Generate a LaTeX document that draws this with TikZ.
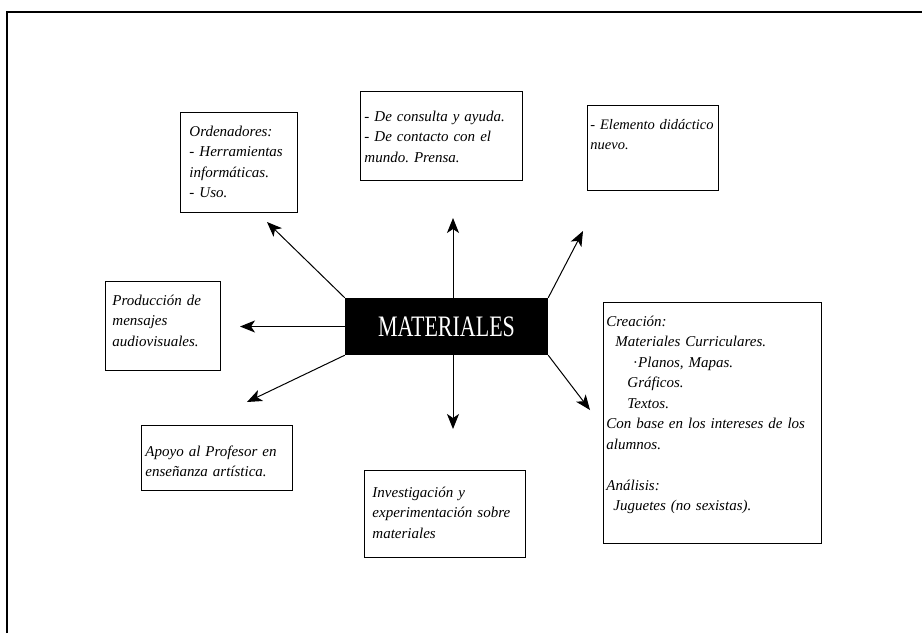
\documentclass[tikz,border=0pt]{standalone}
\usepackage{fontspec}
\setmainfont{Liberation Serif}
\usepackage{graphicx}
\usetikzlibrary{arrows.meta,positioning}
\frenchspacing

\tikzset{
  panel/.style={draw,line width=0.9pt,anchor=north west,align=left,
    inner ysep=8pt,text height=16pt,
    font=\itshape\fontsize{15}{20.5}\selectfont},
  link/.style={line width=1pt,-{Stealth[length=15pt,width=12pt,inset=4pt]}}
}

\begin{document}
\begin{tikzpicture}[x=1pt,y=-1pt]
\useasboundingbox (0,0) rectangle (922,633);
% marco de la hoja
\draw[line width=2pt] (7,633) -- (7,12) -- (922,12);

\node[fill=black,text=white,minimum width=203pt,minimum height=57pt,inner sep=0pt,
  font=\fontsize{22}{22}\selectfont] (mat) at (446.5,326.5) {\scalebox{1}[1.35]{MATERIALES}};

\node[panel,inner xsep=9pt,text width=99pt,text depth=68pt] (orden) at (180,112)
  {Ordenadores:\\- Herramientas\\informáticas.\\- Uso.};
\node[panel,inner xsep=4pt,text width=154pt,text height=22pt,text depth=51pt] (cons) at (360,91)
  {- De consulta y ayuda.\\- De contacto con el\\mundo. Prensa.};
\node[panel,inner xsep=3pt,text width=125pt,text depth=53pt,
  font=\itshape\fontsize{14.5}{20.5}\selectfont] (elem) at (587,105)
  {- Elemento didáctico\\nuevo.};
\node[panel,inner xsep=7pt,text width=101pt,text depth=57pt] (prod) at (105,281)
  {Producción de\\mensajes\\audiovisuales.};
\node[panel,inner xsep=4pt,text width=143pt,text height=23pt,text depth=26pt] (apoyo) at (141,425)
  {Apoyo al Profesor en\\enseñanza artística.};
\node[panel,inner xsep=8pt,text width=145pt,text height=19pt,text depth=52pt] (inv) at (364,470)
  {Investigación y\\experimentación sobre\\materiales};
\node[panel,inner xsep=3pt,text width=212pt,text depth=209pt] (crea) at (603,302)
  {Creación:\\
   \hspace*{9pt}Materiales Curriculares.\\
   \hspace*{27pt}·\hspace{1pt}Planos, Mapas.\\
   \hspace*{21pt}Gráficos.\\
   \hspace*{21pt}Textos.\\
   Con base en los intereses de los\\
   alumnos.\\[20.5pt]
   Análisis:\\
   \hspace*{7pt}Juguetes (no sexistas).};

% puntas de las flechas
\coordinate (tipOrd) at (267,222);
\coordinate (tipProd) at (240,326.5);
\coordinate (tipCons) at (453,218);
\coordinate (tipElem) at (583,231);
\coordinate (tipCrea) at (590,410);
\coordinate (tipInv) at (453,429);
\coordinate (tipApoyo) at (247,402);

\draw[link] (mat.north west) -- (tipOrd);
\draw[link] (mat.west) -- (tipProd);
\draw[link] (mat.north -| tipCons) -- (tipCons);
\draw[link] (mat.north east) -- (tipElem);
\draw[link] (mat.south east) -- (tipCrea);
\draw[link] (mat.south -| tipInv) -- (tipInv);
\draw[link] (mat.south west) -- (tipApoyo);
\end{tikzpicture}
\end{document}
